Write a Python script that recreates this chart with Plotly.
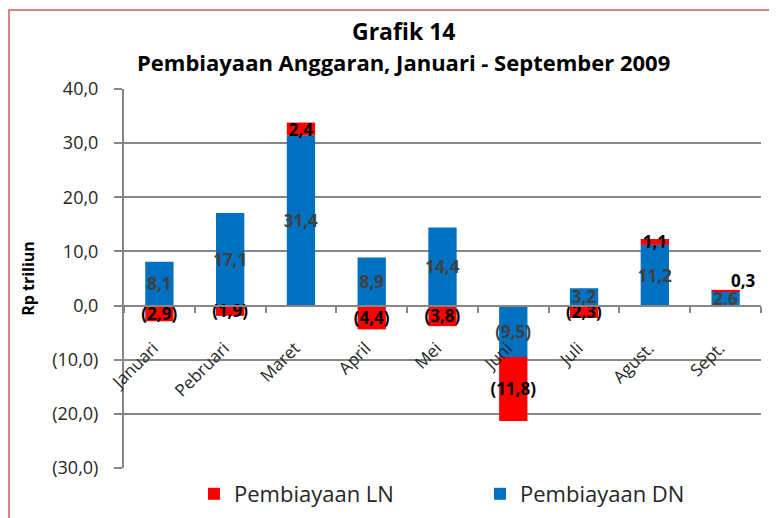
import plotly.graph_objects as go

months = ["Januari", "Pebruari", "Maret", "April", "Mei", "Juni", "Juli", "Agust.", "Sept."]
dn_values = [8.1, 17.1, 31.4, 8.9, 14.4, -9.5, 3.2, 11.2, 2.6]
ln_values = [-2.9, -1.9, 2.4, -4.4, -3.8, -11.8, -2.3, 1.1, 0.3]
y_ticks = [-30, -20, -10, 0, 10, 20, 30, 40]
title_lines = ["Grafik 14", "Pembiayaan Anggaran, Januari - September 2009"]


def fmt(v):
    s = f"{abs(v):.1f}".replace(".", ",")
    return f"({s})" if v < 0 else s


y_ticktext = [fmt(v) for v in y_ticks]
dn_text = [fmt(v) for v in dn_values]
ln_text = [fmt(v) for v in ln_values]
# last LN label is drawn outside (annotation)
ln_text_bar = ln_text[:-1] + [""]

FONT = "Open Sans"
OFF = 8  # page body margin offset
W, H = 777 - OFF, 518 - OFF
L, T = 124 - OFF, 89 - OFF
R, B = 16, 50
ymin, ymax = -30, 40
pw, ph = W - L - R, H - T - B


def py(yfig):
    """figure pixel y -> paper y"""
    return (H - B - yfig) / ph


def px(xfig):
    return (xfig - L) / pw


fig = go.Figure()
fig.add_trace(go.Bar(
    x=months, y=dn_values, name="Pembiayaan DN",
    marker=dict(color="#0070C0", line=dict(width=0)),
    text=dn_text, texttemplate="<b>%{text}</b>", textposition="inside",
    insidetextanchor="middle", textangle=0, constraintext="none",
    textfont=dict(family=FONT, size=17, color="#404040"),
    legendrank=2,
))
fig.add_trace(go.Bar(
    x=months, y=ln_values, name="Pembiayaan LN",
    marker=dict(color="#FF0000", line=dict(width=0)),
    text=ln_text_bar, texttemplate="<b>%{text}</b>", textposition="inside",
    insidetextanchor="middle", textangle=0, constraintext="none",
    textfont=dict(family=FONT, size=17, color="#000000"),
    legendrank=1,
))

# outside label for the small last LN value
fig.add_annotation(
    x=months[-1], y=dn_values[-1] + ln_values[-1], text="<b>" + ln_text[-1] + "</b>",
    showarrow=False, xanchor="left", yanchor="bottom", xshift=3, yshift=-4,
    font=dict(family=FONT, size=17, color="#000000"),
)

# title lines
for line, yc, fs in zip(title_lines, [31 - OFF, 62 - OFF], [23, 22]):
    fig.add_annotation(
        xref="paper", yref="paper", x=px(403 - OFF), y=py(yc),
        xanchor="center", yanchor="middle", showarrow=False,
        text="<b>" + line + "</b>",
        font=dict(family=FONT, size=fs, color="#000000"),
    )

# outer chart border
fig.add_shape(
    type="rect", xref="paper", yref="paper",
    x0=px(1), x1=px(W + 5),
    y0=py(H + 10), y1=py(10 - OFF),
    line=dict(color="#CD5C5C", width=1.5), fillcolor="rgba(0,0,0,0)", layer="below",
)

fig.update_layout(
    width=W, height=H,
    margin=dict(l=L, r=R, t=T, b=B, autoexpand=False),
    paper_bgcolor="white", plot_bgcolor="white",
    barmode="relative", bargap=0.6,
    font=dict(family=FONT, color="#262626"),
    xaxis=dict(
        type="category", anchor="free", position=(0 - ymin) / (ymax - ymin),
        showline=True, linecolor="#868686", linewidth=2,
        ticks="outside", tickson="boundaries", ticklen=6, tickcolor="#868686", tickwidth=1.5,
        tickangle=-45, ticklabelstandoff=25, ticklabelshift=-6,
        tickfont=dict(family=FONT, size=17, color="#262626"),
        showgrid=False, layer="above traces", automargin=False,
    ),
    yaxis=dict(
        range=[ymin, ymax], tickvals=y_ticks, ticktext=y_ticktext,
        showline=True, linecolor="#868686", linewidth=2,
        ticks="outside", ticklen=8, tickcolor="#868686", tickwidth=1.5,
        ticklabelstandoff=12, automargin=False,
        showgrid=True, gridcolor="#868686", gridwidth=1.5, zeroline=False,
        tickfont=dict(family=FONT, size=18, color="#262626"),
        title=dict(text="<b>Rp triliun</b>", standoff=14,
                   font=dict(family=FONT, size=16, color="#000000")),
    ),
    legend=dict(
        orientation="h", x=472 / W, xref="container", xanchor="center",
        y=py(494 - OFF), yanchor="middle",
        entrywidth=241, entrywidthmode="pixels",
        font=dict(family=FONT, size=22, color="#262626"),
        traceorder="normal",
    ),
)

fig.write_html("out.html")
